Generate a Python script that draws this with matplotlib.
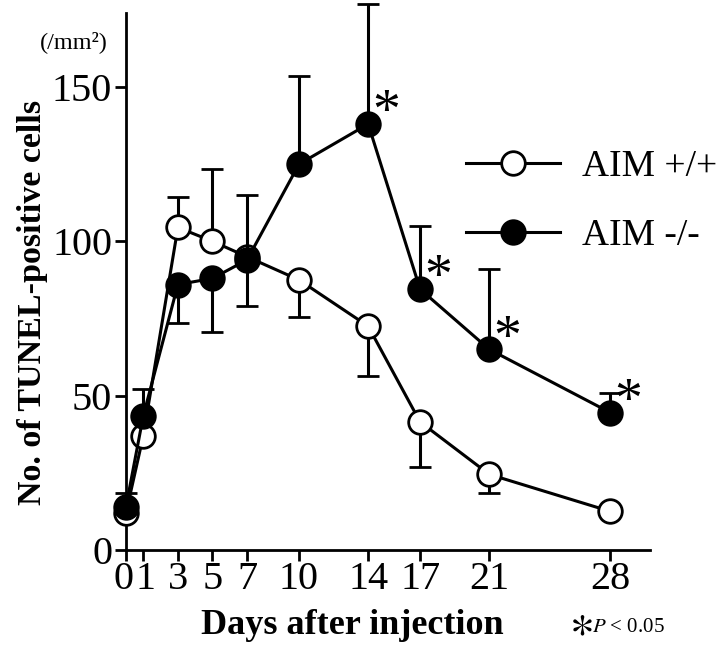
import matplotlib.pyplot as plt
from matplotlib.lines import Line2D
from matplotlib.transforms import ScaledTranslation

plt.rcParams['font.family'] = ['Liberation Serif', 'DejaVu Serif']
plt.rcParams['mathtext.fontset'] = 'stix'

days = [0, 1, 3, 5, 7, 10, 14, 17, 21, 28]

# AIM +/+ (open circles)
wt_mean = [12, 37, 104.5, 100, 95, 87.5, 72.5, 41.5, 24.5, 12.5]
wt_err_lo = [0, 0, 0, 0, 0, 12, 16, 14.5, 6, 0]
wt_err_hi = [0, 0, 10, 23.5, 0, 0, 0, 0, 0, 0]

# AIM -/- (filled circles)
ko_mean = [14, 43.5, 86, 88, 94, 125, 138, 84.5, 65, 44.5]
ko_err_lo = [0, 0, 12.5, 17.5, 15, 0, 0, 0, 0, 0]
ko_err_hi = [4.5, 8.5, 0, 0, 21, 28.5, 39, 20.5, 26, 6.5]

signif_days = [14, 17, 21, 28]

fig = plt.figure(figsize=(7.2, 6.46), dpi=100)
ax = fig.add_axes([0.175, 0.1486, 0.728, 0.8314])

common = dict(color='black', lw=2.2, ms=17, mew=2.0, capsize=8,
              elinewidth=2.2, capthick=2.2, clip_on=False)
eb1 = ax.errorbar(days, wt_mean, yerr=[wt_err_lo, wt_err_hi], fmt='-o',
                  mfc='white', mec='black', zorder=3, **common)
eb2 = ax.errorbar(days, ko_mean, yerr=[ko_err_lo, ko_err_hi], fmt='-o',
                  mfc='black', mec='black', zorder=4, **common)
for artists in (eb1, eb2):
    for a in artists.lines[1] + artists.lines[2]:
        a.set_clip_on(False)

# significance asterisks
for d in signif_days:
    y = ko_mean[days.index(d)]
    ax.annotate('*', (d, y), xytext=(13, 7), textcoords='offset points',
                fontsize=40, ha='center', va='center')

ax.set_xlim(0, 30.3)
ax.set_ylim(0, 174)
ax.set_xticks(days)
ax.set_xticklabels(['0', '1', '3', '5', '7', '10', '14', '17', '21', '28'])
ax.set_yticks([0, 50, 100, 150])
ax.tick_params(axis='both', labelsize=29, width=2, length=8, direction='out', pad=2)
ax.tick_params(axis='x', pad=0)
for s in ['top', 'right']:
    ax.spines[s].set_visible(False)
for s in ['left', 'bottom']:
    ax.spines[s].set_linewidth(2)

# nudge the crowded "0" and "1" labels apart
xt = ax.get_xticklabels()
xt[0].set_transform(xt[0].get_transform() + ScaledTranslation(-2.5 / 100, 0, fig.dpi_scale_trans))
xt[1].set_transform(xt[1].get_transform() + ScaledTranslation(2 / 100, 0, fig.dpi_scale_trans))

handles = [
    Line2D([], [], color='black', lw=2.2, marker='o', ms=17, mew=2.0, mfc='white', mec='black'),
    Line2D([], [], color='black', lw=2.2, marker='o', ms=17, mew=2.0, mfc='black', mec='black'),
]
fig.legend(handles, ['AIM +/+', 'AIM -/-'], loc='upper left',
           bbox_to_anchor=(466 / 720, 1 - 150 / 646), frameon=False,
           fontsize=27, handlelength=2.5, handletextpad=0.6, labelspacing=0.9,
           borderpad=0, borderaxespad=0)

fig.text(33 / 720, 1 - 302 / 646, 'No. of TUNEL-positive cells', rotation=90,
         ha='center', va='center', fontsize=24.5, fontweight='bold')
fig.text(352 / 720, 1 - 626 / 646, 'Days after injection',
         ha='center', va='center', fontsize=26, fontweight='bold')
fig.text(40 / 720, 1 - 42 / 646, '(/mm²)', ha='left', va='center', fontsize=17.5)
fig.text(569 / 720, 1 - 625 / 646, r'$\ast$', ha='left', va='center', fontsize=34)
fig.text(592 / 720, 1 - 628 / 646, '$P$ < 0.05', ha='left', va='center', fontsize=15)

fig.savefig('out.png', dpi=100)
